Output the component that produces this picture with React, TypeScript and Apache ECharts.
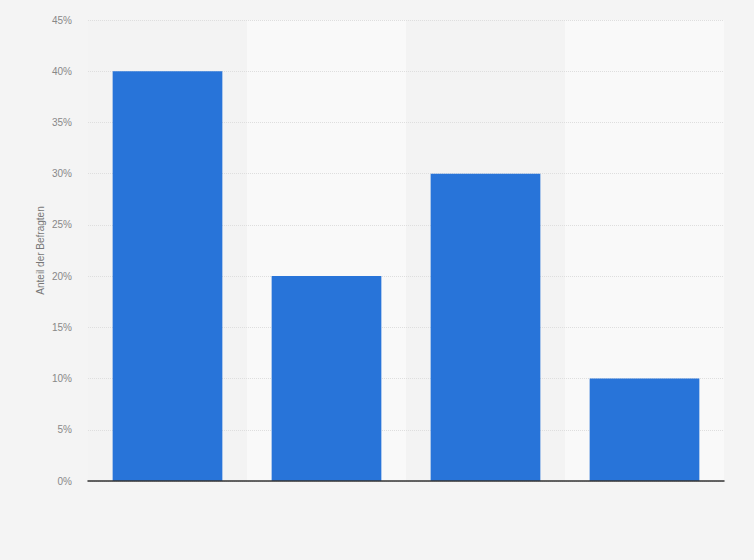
import React, { useEffect, useRef } from "react";
import * as echarts from "echarts";

const categories = ["A", "B", "C", "D"];
const values = [40, 20, 30, 10];
const yTicks = { min: 0, max: 45, interval: 5 };
const yAxisName = "Anteil der Befragten";

export default function App() {
  const ref = useRef<HTMLDivElement>(null);
  useEffect(() => {
    document.body.style.margin = "0";
    const chart = echarts.init(ref.current!, null, { renderer: "svg" });
    chart.setOption({
      animation: false,
      backgroundColor: "#f4f4f4",
      grid: { left: 88, right: 30, top: 20, bottom: 79 },
      xAxis: [
        {
          type: "category",
          data: categories,
          z: 5,
          axisLabel: { show: false },
          axisTick: { show: false },
          axisLine: { show: true, lineStyle: { color: "#333", width: 1.5 } },
          splitArea: { show: false },
        },
        {
          type: "category",
          data: categories,
          z: 0,
          position: "bottom",
          axisLabel: { show: false },
          axisTick: { show: false },
          axisLine: { show: false },
          splitArea: { show: true, areaStyle: { color: ["#f3f3f3", "#f9f9f9"] } },
        },
      ],
      yAxis: {
        type: "value",
        z: 1,
        min: yTicks.min,
        max: yTicks.max,
        interval: yTicks.interval,
        name: yAxisName,
        nameLocation: "middle",
        nameGap: 43,
        nameMoveOverlap: false,
        nameTextStyle: { color: "#777", fontSize: 10, fontFamily: "Liberation Sans, Arial, sans-serif" },
        axisLine: { show: false },
        axisTick: { show: false },
        axisLabel: {
          formatter: "{value}%",
          color: "#888",
          fontSize: 10,
          margin: 16,
          fontFamily: "Liberation Sans, Arial, sans-serif",
        },
        splitLine: { show: true, lineStyle: { color: "#dedede", type: [1, 1] } },
      },
      series: [
        {
          type: "bar",
          xAxisIndex: 0,
          z: 4,
          data: values,
          barWidth: "69%",
          itemStyle: { color: "#2874d9" },
        },
      ],
    });
    return () => chart.dispose();
  }, []);
  return <div ref={ref} style={{ width: 754, height: 560 }} />;
}
